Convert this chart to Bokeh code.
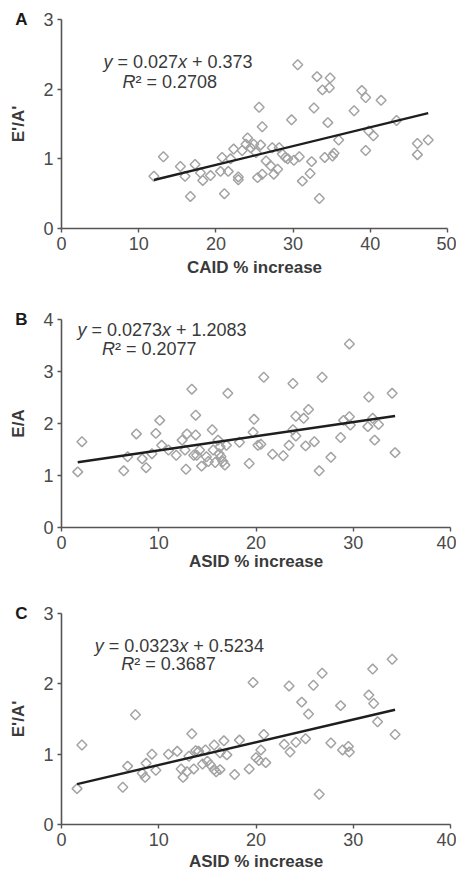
import numpy as np
from bokeh.plotting import figure
from bokeh.layouts import column
from bokeh.models import Label, Range1d, FixedTicker, LinearAxis
from bokeh.embed import file_html
from bokeh.resources import INLINE

# ---------------- data ----------------
A_x = [11.97, 13.2, 15.4, 16.0, 16.7, 17.3, 18.0, 18.3, 19.3, 20.6, 20.8, 21.1, 21.6, 21.9, 22.3,
       22.9, 22.9, 23.4, 23.9, 24.1, 24.5, 24.9, 25.2, 25.4, 25.6, 25.8, 26.0, 26.0, 26.5, 27.1,
       27.3, 27.5, 28.0, 28.2, 28.6, 29.0, 29.3, 29.8, 30.1, 30.6, 30.8, 31.2, 32.2, 32.4, 32.7,
       33.1, 33.4, 33.8, 34.1, 34.5, 34.7, 34.8, 35.1, 35.3, 35.9, 37.9, 38.9, 39.4, 39.4, 39.8,
       40.4, 41.4, 43.4, 46.1, 46.1, 47.5]
A_y = [0.75, 1.03, 0.89, 0.75, 0.46, 0.92, 0.80, 0.69, 0.76, 0.82, 1.02, 0.50, 0.82, 1.00, 1.14,
       0.74, 0.70, 1.12, 1.21, 1.30, 1.16, 1.21, 1.09, 0.73, 1.74, 1.20, 1.46, 0.78, 0.97, 0.90,
       1.16, 0.78, 0.85, 1.16, 1.07, 1.02, 1.00, 1.56, 0.98, 2.35, 1.03, 0.68, 0.79, 0.96, 1.73,
       2.18, 0.43, 1.99, 1.02, 1.52, 2.02, 2.16, 1.04, 1.08, 1.27, 1.69, 1.98, 1.88, 1.12, 1.40,
       1.33, 1.84, 1.55, 1.06, 1.22, 1.27]
A_slope, A_icpt, A_r2 = "0.027", "0.373", "0.2708"

B_x = [1.67, 2.1, 6.4, 6.8, 7.7, 8.3, 8.7, 9.3, 9.7, 10.1, 10.3, 11.0, 11.8, 12.4, 12.7,
       12.8, 12.9, 13.4, 13.6, 13.8, 13.8, 13.9, 14.2, 14.4, 14.9, 15.1, 15.5, 15.6, 15.8, 16.1,
       16.2, 16.3, 16.4, 16.6, 16.8, 16.96, 17.1, 18.3, 19.3, 19.7, 19.8, 20.2, 20.5, 20.8, 21.7,
       22.8, 23.4, 23.8, 23.8, 24.1, 24.1, 24.9, 25.4, 25.1, 26.0, 26.5, 26.8, 27.7, 28.7, 29.0,
       29.6, 29.6, 29.7, 31.5, 31.6, 32.0, 32.2, 32.6, 34.0, 34.3]
B_y = [1.07, 1.65, 1.09, 1.36, 1.80, 1.32, 1.15, 1.42, 1.81, 2.06, 1.58, 1.49, 1.39, 1.68, 1.49,
       1.12, 1.80, 2.66, 1.39, 2.16, 1.78, 1.39, 1.49, 1.18, 1.36, 1.27, 1.88, 1.49, 1.25, 1.68,
       1.42, 1.55, 1.36, 1.27, 1.20, 1.58, 2.58, 1.64, 1.23, 1.83, 2.08, 1.58, 1.60, 2.89, 1.41,
       1.38, 1.58, 2.77, 1.88, 2.14, 1.76, 2.10, 2.27, 1.57, 1.65, 1.09, 2.89, 1.35, 1.73, 2.06,
       3.53, 2.13, 1.97, 1.94, 2.51, 2.10, 1.68, 1.98, 2.58, 1.44]
B_slope, B_icpt, B_r2 = "0.0273", "1.2083", "0.2077"

C_x = [1.6, 2.1, 6.3, 6.8, 7.6, 8.3, 8.6, 8.7, 9.3, 9.7, 11.0, 11.9, 12.3, 12.5, 12.9,
       13.1, 13.4, 13.6, 13.8, 14.1, 14.5, 14.8, 15.0, 15.3, 15.7, 15.7, 15.9, 16.3, 16.3, 16.7,
       17.0, 17.8, 18.3, 19.3, 19.7, 20.0, 20.3, 20.5, 20.8, 21.0, 22.9, 23.4, 23.5, 24.1, 24.7,
       25.1, 25.4, 25.9, 26.5, 26.8, 27.7, 28.7, 28.9, 29.5, 29.6, 31.6, 32.0, 32.1, 32.5, 34.0,
       34.3]
C_y = [0.51, 1.13, 0.53, 0.83, 1.56, 0.73, 0.67, 0.87, 1.00, 0.77, 1.00, 1.04, 0.79, 0.67, 0.75,
       0.97, 1.29, 0.79, 1.05, 1.04, 0.86, 1.06, 0.90, 0.85, 1.13, 0.78, 0.75, 0.78, 1.02, 1.19,
       0.99, 0.71, 1.20, 0.79, 2.02, 0.95, 0.91, 1.06, 1.28, 0.88, 1.14, 1.97, 1.03, 1.17, 1.74,
       1.22, 1.57, 1.98, 0.43, 2.15, 1.16, 1.69, 1.06, 1.11, 1.03, 1.84, 2.21, 1.72, 1.46, 2.35,
       1.28]
C_slope, C_icpt, C_r2 = "0.0323", "0.5234", "0.3687"

A_xticks = [0, 10, 20, 30, 40, 50]
A_yticks = [0, 1, 2, 3]
B_xticks = [0, 10, 20, 30, 40]
B_yticks = [0, 1, 2, 3, 4]
C_xticks = [0, 10, 20, 30, 40]
C_yticks = [0, 1, 2, 3]

FONT = "Liberation Sans"
TXT = "#3a3a3a"
AXC = "#555555"

# Arial/Liberation Sans advance widths (em)
W = {"0": .556, "1": .556, "2": .556, "3": .556, "4": .556, "5": .556, "6": .556, "7": .556,
     "8": .556, "9": .556, ".": .278, " ": .278, "=": .584, "+": .584, "x": .5, "y": .5}


def tw(s):
    return sum(W.get(c, .556) for c in s)


def style_axis(ax):
    ax.minor_tick_line_color = None
    ax.major_tick_in = 0
    ax.major_tick_out = 4
    ax.axis_line_color = AXC
    ax.axis_line_width = 1.6
    ax.major_tick_line_color = AXC
    ax.major_tick_line_width = 1.4
    ax.major_label_text_font = FONT
    ax.major_label_text_font_size = "18px"
    ax.major_label_text_color = "#4a4a4a"
    ax.axis_label_text_font = FONT
    ax.axis_label_text_font_size = "17px"
    ax.axis_label_text_font_style = "bold"
    ax.axis_label_text_color = TXT


def panel(xs, ys, slope, icpt, r2, xticks, yticks, xlabel, ylabel, letter,
          fw, fh, bt, bb, br, lab_sd, eq_pos, r2_pos):
    p = figure(frame_width=fw, frame_height=fh, output_backend="svg", toolbar_location=None,
               x_range=Range1d(xticks[0], xticks[-1]), y_range=Range1d(yticks[0], yticks[-1]),
               min_border_left=61, min_border_right=br, min_border_top=bt, min_border_bottom=bb)
    p.outline_line_color = None
    p.grid.visible = False
    p.xaxis[0].ticker = FixedTicker(ticks=xticks)
    p.yaxis[0].ticker = FixedTicker(ticks=yticks)
    style_axis(p.xaxis[0])
    style_axis(p.yaxis[0])
    p.xaxis[0].axis_label = xlabel
    p.xaxis[0].major_label_standoff = 4
    p.xaxis[0].axis_label_standoff = lab_sd
    p.yaxis[0].major_label_standoff = 4

    # outer left axis: panel letter as its single tick label + the y axis title
    top = yticks[-1]
    lax = LinearAxis(ticker=FixedTicker(ticks=[top]), major_label_overrides={top: letter},
                     axis_label=ylabel)
    style_axis(lax)
    lax.axis_line_color = None
    lax.major_tick_line_color = None
    lax.major_tick_out = 0
    lax.major_label_standoff = 13
    lax.major_label_text_font_style = "bold"
    lax.major_label_text_font_size = "17px"
    lax.major_label_text_color = "#1a1a1a"
    lax.axis_label_standoff = -16
    p.add_layout(lax, "left")

    p.scatter(xs, ys, marker="square", angle=np.pi / 4, size=7, fill_color=None,
              line_color="#a3a3a3", line_width=1.5)
    m, b = float(slope), float(icpt)
    x0, x1 = min(xs), max(xs)
    p.line([x0, x1], [m * x0 + b, m * x1 + b], line_color="#1e1e1e", line_width=2.4)

    # regression equation, italic variables
    fs = 18
    ex, ey = eq_pos
    s1 = f"= {slope}"
    s2 = f"+ {icpt}"
    o1 = tw("y ")
    o2 = o1 + tw(s1)
    o3 = o2 + tw("x ")
    pieces = [("y", "italic", 0), (s1, "normal", o1), ("x", "italic", o2), (s2, "normal", o3)]
    for t, st, off in pieces:
        p.add_layout(Label(x=ex, y=ey, x_offset=off * fs, text=t, text_font=FONT,
                           text_font_style=st, text_font_size=f"{fs}px", text_color=TXT,
                           text_baseline="middle"))
    rx, ry = r2_pos
    p.add_layout(Label(x=rx, y=ry, text="R", text_font=FONT, text_font_style="italic",
                       text_font_size=f"{fs}px", text_color=TXT, text_baseline="middle"))
    p.add_layout(Label(x=rx, y=ry, x_offset=0.722 * fs, text=f"\u00b2 = {r2}", text_font=FONT,
                       text_font_size=f"{fs}px", text_color=TXT, text_baseline="middle"))
    return p


pA = panel(A_x, A_y, A_slope, A_icpt, A_r2, A_xticks, A_yticks, "CAID % increase", "E'/A'", "A",
           386, 209, 19, 72, 9, 5, (5.44, 2.386), (7.9, 2.10))
pB = panel(B_x, B_y, B_slope, B_icpt, B_r2, B_xticks, B_yticks, "ASID % increase", "E/A", "B",
           389, 208, 19, 65, 6, 0, (1.64, 3.80), (4.17, 3.44))
pC = panel(C_x, C_y, C_slope, C_icpt, C_r2, C_xticks, C_yticks, "ASID % increase", "E'/A'", "C",
           389, 211, 21, 50, 6, 3, (3.42, 2.54), (6.14, 2.28))

layout = column(pA, pB, pC, spacing=0)
open("out.html", "w").write(file_html(layout, INLINE))
